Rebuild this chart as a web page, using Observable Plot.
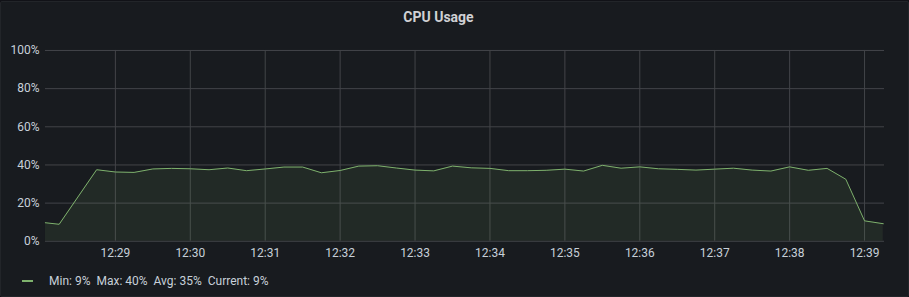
<!DOCTYPE html>
<html>
<head>
<meta charset="utf-8">
<script src="https://cdn.jsdelivr.net/npm/d3@7"></script>
<script src="https://cdn.jsdelivr.net/npm/@observablehq/plot@0.6"></script>
<style>
  html, body { margin: 0; padding: 0; background: #111217; }
  #panel {
    position: absolute; left: 0; top: 1px; width: 907px; height: 294px;
    background: #181b1f; border: 1px solid #222529; border-radius: 2px;
    font-family: Roboto, Inter, "Noto Sans", sans-serif; color: #c7d0d9;
    overflow: hidden;
  }
  #title {
    position: absolute; left: -16px; top: 0; width: 907px; height: 31px;
    line-height: 31px; text-align: center; font-size: 14px; font-weight: 700;
    color: #d0d1d4;
  }
  #chart { position: absolute; left: -1px; top: 33px; }
  #legend {
    position: absolute; left: 21px; top: 271px; height: 16px;
    display: flex; align-items: center; font-size: 12px; color: #c7d0d9;
  }
  #legend .swatch { width: 11px; height: 2px; background: #7eb26d; margin-right: 16px; }
  #legend .item { margin-right: 6px; }
</style>
</head>
<body>
<div id="panel">
  <div id="title"></div>
  <div id="chart"></div>
  <div id="legend"></div>
</div>
<script>
// ---- data ----
const chartTitle = "CPU Usage";
const startTime = Date.UTC(2021, 0, 1, 12, 28, 0); // first sample, 12:28:00
const sampleSeconds = 15;
const cpuValues = [
  10.0, 8.9, 23.2, 37.5,
  36.3, 36.1, 37.9, 38.2,
  38.0, 37.5, 38.4, 37.0,
  37.9, 38.9, 38.9, 35.9,
  37.1, 39.4, 39.6, 38.4,
  37.3, 36.9, 39.4, 38.5,
  38.2, 37.0, 37.0, 37.2,
  37.8, 36.8, 39.8, 38.3,
  39.0, 38.0, 37.7, 37.3,
  37.8, 38.3, 37.3, 36.8,
  39.0, 37.2, 38.2, 32.5,
  10.7, 9.2
];
const xDomain = [new Date(Date.UTC(2021, 0, 1, 12, 28, 4.3)), new Date(Date.UTC(2021, 0, 1, 12, 39, 16.5))];
const yTicks = [0, 20, 40, 60, 80, 100];
const legendStats = ["Min: 9%", "Max: 40%", "Avg: 35%", "Current: 9%"];

const data = cpuValues.map((v, i) => ({ time: new Date(startTime + i * sampleSeconds * 1000), value: v }));

const gridColor = "#424448";
const lineColor = "#7eb26d";

const chart = Plot.plot({
  width: 909,
  height: 240,
  marginTop: 15,
  marginBottom: 34,
  marginLeft: 45,
  marginRight: 24,
  style: { background: "transparent", color: "#c7d0d9", fontFamily: "Roboto, Inter, sans-serif", fontSize: "12px" },
  x: { type: "utc", domain: xDomain, ticks: d3.utcMinute.every(1), tickFormat: d3.utcFormat("%H:%M"), label: null },
  y: { domain: [0, 100], ticks: yTicks, tickFormat: d => d + "%", label: null },
  marks: [
    Plot.gridY(yTicks, { stroke: gridColor, strokeOpacity: 1 }),
    Plot.gridX({ ticks: d3.utcMinute.every(1), stroke: gridColor, strokeOpacity: 1 }),
    Plot.areaY(data, { x: "time", y: "value", fill: lineColor, fillOpacity: 0.1, clip: true }),
    Plot.lineY(data, { x: "time", y: "value", stroke: lineColor, strokeWidth: 1, clip: true }),
    Plot.axisY({ ticks: yTicks, tickSize: 0, tickPadding: 6, tickFormat: d => d + "%", fill: "#c7d0d9", label: null }),
    Plot.axisX({ ticks: d3.utcMinute.every(1), tickSize: 0, tickPadding: 7, tickFormat: d3.utcFormat("%H:%M"), fill: "#c7d0d9", label: null })
  ]
});
document.getElementById("chart").appendChild(chart);
document.getElementById("title").textContent = chartTitle;

const legend = document.getElementById("legend");
const sw = document.createElement("div"); sw.className = "swatch"; legend.appendChild(sw);
legendStats.forEach(s => { const e = document.createElement("span"); e.className = "item"; e.textContent = s; legend.appendChild(e); });
</script>
</body>
</html>
